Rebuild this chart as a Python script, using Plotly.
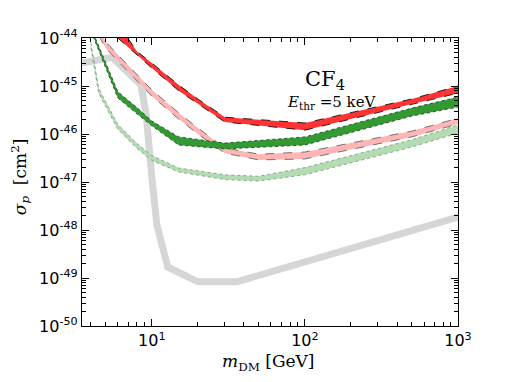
import numpy as np
import plotly.graph_objects as go

# ---- data (log10 of cross-section in cm^2) ----
gray_m = [3.5, 5.5, 8.5, 9.2, 10.0, 10.8, 12.7, 20, 36, 1000]
gray_s = [-44.52, -44.4, -44.98, -45.6, -46.9, -47.9, -48.77, -49.08, -49.08, -47.73]

red_m = [6, 8, 10, 15, 20, 30, 100, 500, 1000]
red_hi = [-43.7, -44.28, -44.52, -44.98, -45.27, -45.65, -45.77, -45.27, -45.0]
red_lo = [-44.0, -44.36, -44.625, -45.1, -45.375, -45.75, -45.92, -45.375, -45.15]

grn_m = [4, 5, 6, 8, 10, 15, 30, 100, 500, 1000]
grn_hi = [-43.78, -44.54, -45.12, -45.45, -45.73, -46.06, -46.19, -46.06, -45.46, -45.23]
grn_lo = [-43.85, -44.62, -45.25, -45.58, -45.83, -46.23, -46.31, -46.23, -45.625, -45.44]

pnk_m = [4.5, 5, 6, 8, 10, 15, 20, 30, 50, 100, 500, 1000]
pnk_hi = [-43.8, -44.08, -44.35, -44.77, -45.08, -45.56, -45.875, -46.29, -46.42, -46.375, -45.94, -45.67]
pnk_lo = [-43.95, -44.21, -44.48, -44.9, -45.21, -45.69, -46.0, -46.4, -46.54, -46.52, -46.06, -45.79]

lgr_m = [4, 4.5, 5, 6, 8, 10, 15, 30, 50, 100, 500, 1000]
lgr_hi = [-44.1, -45.05, -45.33, -45.8, -46.2, -46.45, -46.71, -46.85, -46.88, -46.7, -46.12, -45.81]
lgr_lo = [-44.2, -45.15, -45.43, -45.9, -46.3, -46.55, -46.79, -46.95, -46.98, -46.85, -46.27, -45.98]

y_tick_exp = [-50, -49, -48, -47, -46, -45, -44]
x_tick_exp = [1, 2, 3]

fig = go.Figure()

def pw(a):
    return [10.0 ** v for v in a]

def band(m, hi, lo, fill, edge, dash, width=0.9):
    fig.add_trace(go.Scatter(
        x=list(m) + list(m)[::-1], y=pw(list(hi) + list(lo)[::-1]),
        fill="toself", fillcolor=fill, mode="lines",
        line=dict(width=0, color=fill), hoverinfo="skip", showlegend=False))
    for arr in (hi, lo):
        fig.add_trace(go.Scatter(x=m, y=pw(arr), mode="lines",
                                 line=dict(color=edge, width=width, dash=dash),
                                 hoverinfo="skip", showlegend=False))

fig.add_trace(go.Scatter(x=gray_m, y=pw(gray_s), mode="lines",
                         line=dict(color="#d6d6d6", width=7),
                         showlegend=False, hoverinfo="skip"))

band(lgr_m, lgr_hi, lgr_lo, "#b5dbb5", "#7aa67a", "dot", 0.9)
band(pnk_m, pnk_hi, pnk_lo, "#ffb5b5", "#666666", "dash", 0.9)
band(grn_m, grn_hi, grn_lo, "#339a33", "#1f4a1f", "dot", 0.9)
band(red_m, red_hi, red_lo, "#ff3333", "#111111", "dash", 0.9)

minor_x = [k * 10.0 ** e for e in range(0, 3) for k in range(2, 10)]
minor_y = [k * 10.0 ** e for e in range(-50, -44) for k in range(2, 10)]

fig.update_xaxes(type="log", range=[np.log10(3.5), 3], automargin=False,
                 tickvals=[10.0 ** e for e in x_tick_exp],
                 ticktext=["10<sup>%d</sup>" % e for e in x_tick_exp],
                 ticks="inside", ticklen=7, tickwidth=1, tickcolor="black",
                 minor=dict(tickvals=minor_x, ticks="inside", ticklen=3.5, tickcolor="black"),
                 showline=True, linecolor="black", linewidth=1.2, mirror="allticks",
                 showgrid=False, zeroline=False,
                 tickfont=dict(family="DejaVu Sans", size=16, color="black"))
fig.update_yaxes(type="log", range=[-50, -44], automargin=False,
                 tickvals=[10.0 ** e for e in y_tick_exp],
                 ticktext=["10<sup>%d</sup>" % e for e in y_tick_exp],
                 ticks="inside", ticklen=7, tickwidth=1, tickcolor="black",
                 minor=dict(tickvals=minor_y, ticks="inside", ticklen=3.5, tickcolor="black"),
                 showline=True, linecolor="black", linewidth=1.2, mirror="allticks",
                 showgrid=False, zeroline=False,
                 tickfont=dict(family="DejaVu Sans", size=16, color="black"))

fig.add_annotation(text="<i>m</i><sub>DM</sub> [GeV]", x=0.495, y=-0.125, xref="paper", yref="paper",
                   yanchor="middle", showarrow=False,
                   font=dict(family="DejaVu Serif", size=17, color="black"))
fig.add_annotation(text="<i>σ</i><sub><i>p</i></sub>  [cm<sup>2</sup>]", x=-0.165, y=0.52,
                   xref="paper", yref="paper", xanchor="center",
                   textangle=-90, showarrow=False,
                   font=dict(family="DejaVu Serif", size=17, color="black"))

fig.add_annotation(text="CF<sub>4</sub>", x=0.645, y=0.905, xref="paper", yref="paper",
                   showarrow=False, font=dict(family="DejaVu Serif", size=21, color="black"))
fig.add_annotation(text="<i>E</i><sub>thr</sub> =5 keV", x=0.665, y=0.815, xref="paper", yref="paper",
                   showarrow=False, font=dict(family="DejaVu Serif", size=15, color="black"))

fig.update_layout(width=509, height=382, margin=dict(l=82, r=51, t=38, b=56),
                  plot_bgcolor="white", paper_bgcolor="white")
fig.write_html("out.html", config={"displayModeBar": False},
               post_script="document.body.style.margin='0';document.body.style.overflow='hidden';")
